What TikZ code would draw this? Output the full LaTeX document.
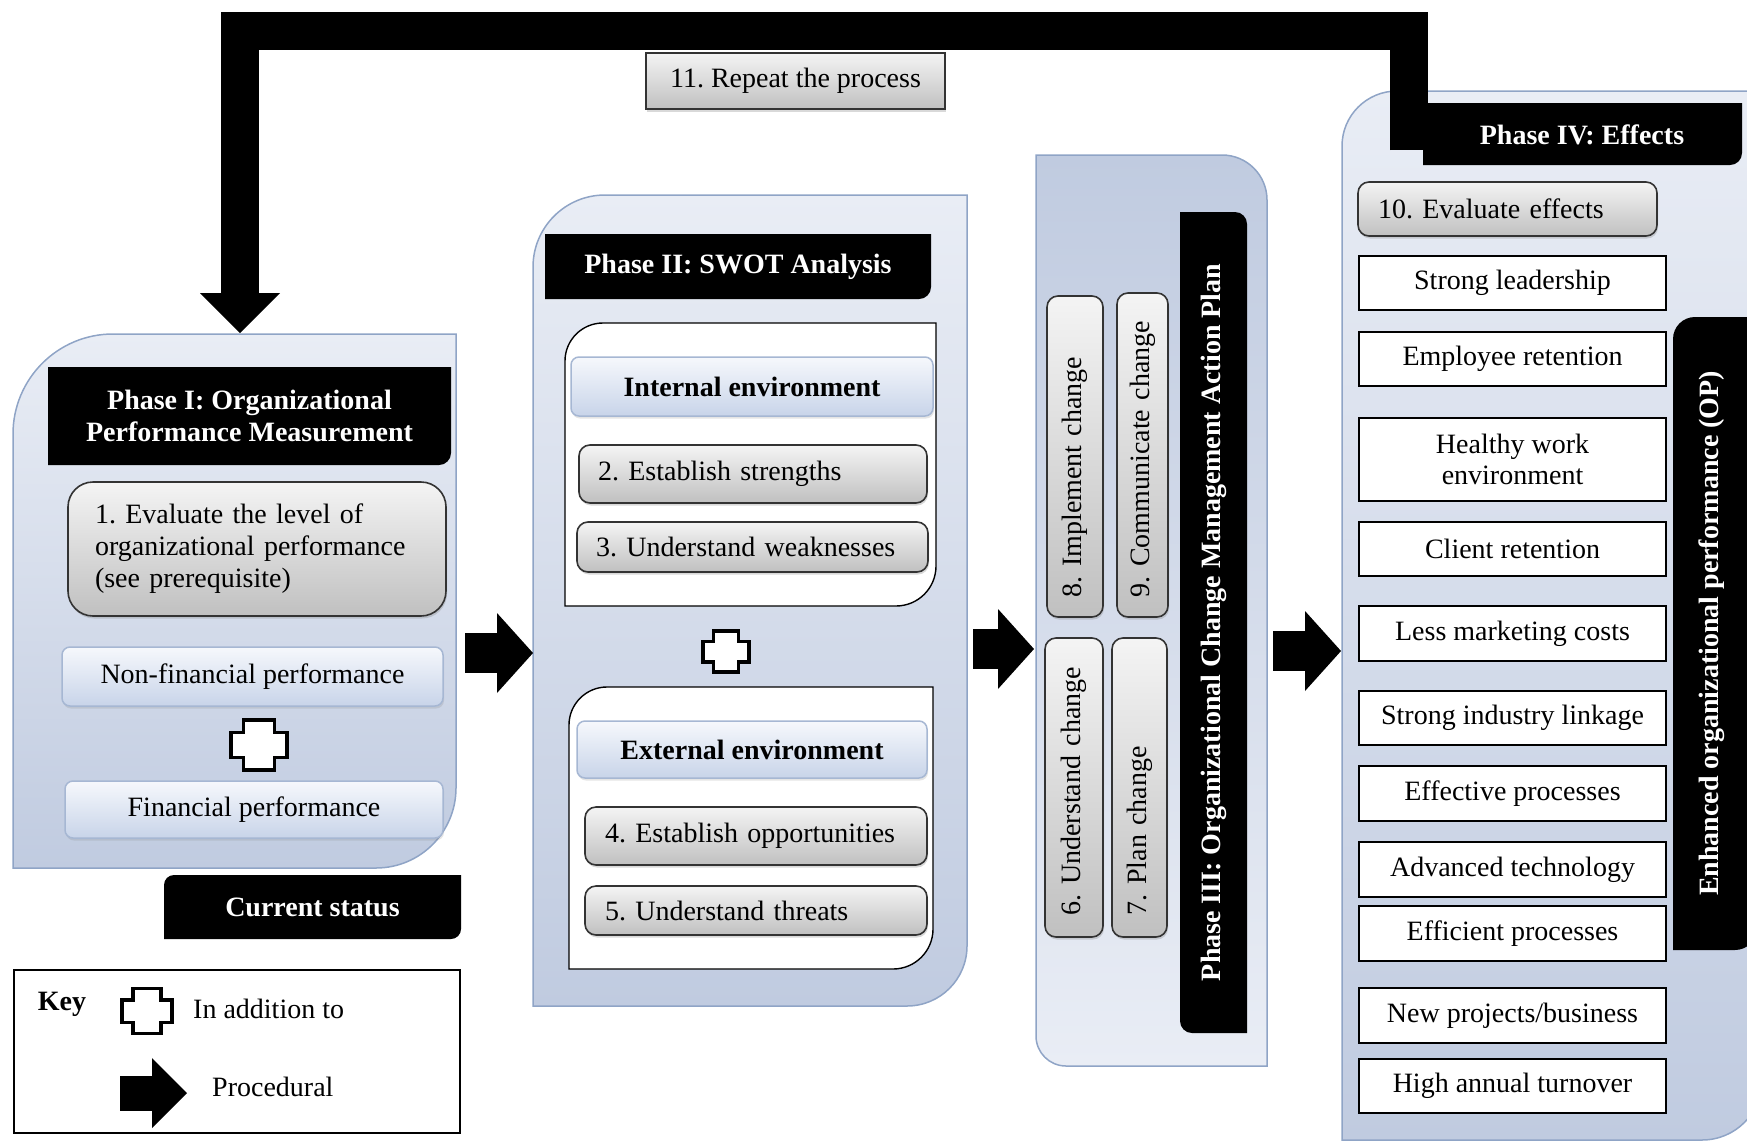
\documentclass[tikz,border=0pt]{standalone}
\usepackage{fontspec}
\setmainfont{Liberation Serif}
\usepackage{xcolor}
\usetikzlibrary{positioning, shadows, arrows.meta}
\frenchspacing

\definecolor{panelTop}{HTML}{E9EDF5}
\definecolor{panelBot}{HTML}{C0CBE0}
\definecolor{panelEdge}{HTML}{8FA4C6}
\definecolor{liteTop}{HTML}{F6F8FC}
\definecolor{liteBot}{HTML}{C8D4E9}
\definecolor{liteEdge}{HTML}{A6B7D3}
\definecolor{taskTop}{HTML}{F4F4F4}
\definecolor{taskBot}{HTML}{C0C0C0}

\tikzset{
    every node/.style={font=\fontsize{28}{31}\selectfont, inner sep=0pt},
    panel/.style={draw=panelEdge, line width=1.5pt, top color=panelTop, bottom color=panelBot},
    rpanel/.style={draw=panelEdge, line width=1.5pt, top color=panelBot, bottom color=panelTop},
    hdr/.style={fill=black},
    hdrtext/.style={text=white, font=\fontsize{28}{32}\selectfont\bfseries, align=center},
    holder/.style={draw=black, line width=1.4pt, fill=white},
    task/.style={rectangle, rounded corners=11pt, draw=black!80, line width=1.6pt, top color=taskTop, bottom color=taskBot, drop shadow={shadow xshift=1pt, shadow yshift=-2.5pt, opacity=0.3}},
    lite/.style={rectangle, rounded corners=8pt, draw=liteEdge, line width=1.5pt, top color=liteTop, bottom color=liteBot, drop shadow={shadow xshift=1pt, shadow yshift=-2.5pt, opacity=0.2}},
    effect/.style={rectangle, draw=black, line width=1.6pt, fill=white, minimum width=307pt, align=center},
    flow/.style={line width=40pt, -{Triangle[length=36pt, width=80pt, line width=0pt]}},
    loopback/.style={line width=38pt, line join=miter, -{Triangle[length=40pt, width=80pt, line width=0pt]}},
    addsign/.pic={\draw[line width=3.5pt, fill=white, line join=miter] (-15.5,-25) -- (15.5,-25) -- (15.5,-12.5) -- (28,-12.5) -- (28,12.5) -- (15.5,12.5) -- (15.5,25) -- (-15.5,25) -- (-15.5,12.5) -- (-28,12.5) -- (-28,-12.5) -- (-15.5,-12.5) -- cycle;},
}

% box with rounded top-left (#7) and bottom-right (#8) corners
\newcommand{\phasebox}[8]{%
    \path[#1] (#3,#6) -- (#3,{#4+#7}) arc[start angle=180, end angle=270, radius=#7]
        -- (#5,#4) -- (#5,{#6-#8}) arc[start angle=0, end angle=90, radius=#8] -- cycle;
    \coordinate (#2) at ({(#3+#5)/2},{(#4+#6)/2});
}

\begin{document}
\begin{tikzpicture}[x=1pt, y=-1pt]
\useasboundingbox (0,0) rectangle (1747,1143);

% phase panels
\phasebox{panel}{p1}{13}{334}{456}{868}{100}{80}
\phasebox{panel}{p2}{533}{195}{967}{1006}{72}{60}
\path[rpanel] (1036,155) -- (1222,155) arc[start angle=270, end angle=360, radius=45]
    -- (1267,1066) -- (1066,1066) arc[start angle=90, end angle=180, radius=30] -- cycle;
\coordinate (p3) at (1151.5,610.5);
\phasebox{panel}{p4}{1342}{91}{1762}{1140}{55}{60}

% procedural arrows
\coordinate (out1) at (465,653);
\coordinate (in2) at (533,653);
\coordinate (out2) at (973,649);
\coordinate (in3) at (1034,649);
\coordinate (out3) at (1273,651);
\coordinate (in4) at (1341,651);
\draw[flow] (out1) -- (in2);
\draw[flow] (out2) -- (in3);
\draw[flow] (out3) -- (in4);

% repeat loop
\coordinate (back) at (1409,150);
\coordinate (again) at (240,333);
\draw[loopback] (back) -- ++(0,-119) -| (again);
\node[task, sharp corners, minimum width=299pt, minimum height=56pt] (repeat) at (795.5,81) {11. Repeat the process};

% phase I
\phasebox{hdr}{h1}{48}{367}{451}{465}{0.01}{12}
\node[hdrtext] (h1text) at (h1) {Phase I: Organizational\\Performance Measurement};
\node[task, rounded corners=25pt, minimum width=378pt, minimum height=134pt, text width=324pt, inner xsep=27pt, align=left, font=\fontsize{28}{32}\selectfont] (s1) at (257,549) {1. Evaluate the level of\\organizational performance\\(see prerequisite)};
\node[lite, minimum width=381pt, minimum height=59pt] (nonfin) at (252.5,676.5) {Non-financial performance};
\pic at (259,745) {addsign};
\node[lite, minimum width=378pt, minimum height=57pt] (fin) at (254,809.5) {Financial performance};
\phasebox{hdr}{cur}{164}{875}{461}{939}{10}{10}
\node[hdrtext] (curtext) at (cur) {Current status};

% phase II
\phasebox{hdr}{h2}{545}{234}{931}{299}{0.01}{12}
\node[hdrtext] (h2text) at (h2) {Phase II: SWOT Analysis};
\phasebox{holder}{inner}{565}{323}{936}{606}{38}{40}
\node[lite, minimum width=362pt, minimum height=59pt, font=\fontsize{28}{31}\selectfont\bfseries] (inthdr) at (752,386.5) {Internal environment};
\node[task, minimum width=348pt, minimum height=58pt, text width=310pt, inner xsep=19pt, align=left] (s2) at (753,474) {2. Establish strengths};
\node[task, minimum width=351pt, minimum height=50pt, text width=313pt, inner xsep=19pt, align=left] (s3) at (752.5,547) {3. Understand weaknesses};
\pic[scale=0.82] at (726,651.5) {addsign};
\phasebox{holder}{outer}{569}{687}{933}{969}{38}{40}
\node[lite, minimum width=350pt, minimum height=57pt, font=\fontsize{28}{31}\selectfont\bfseries] (exthdr) at (752,749.5) {External environment};
\node[task, minimum width=342pt, minimum height=58pt, text width=302pt, inner xsep=20pt, align=left] (s4) at (756,836) {4. Establish opportunities};
\node[task, minimum width=342pt, minimum height=49pt, text width=302pt, inner xsep=20pt, align=left] (s5) at (756,910.5) {5. Understand threats};

% phase III
\path[hdr] (1180,212) -- (1235,212) arc[start angle=270, end angle=360, radius=12]
    -- (1247,1033) -- (1192,1033) arc[start angle=90, end angle=180, radius=12] -- cycle;
\node[hdrtext, rotate=90] (h3text) at (1213.5,622.5) {Phase III: Organizational Change Management Action Plan};
\node[task, rotate=90, minimum width=321pt, minimum height=56pt, text width=281pt, inner xsep=20pt, align=left] (s8) at (1075,456.5) {8. Implement change};
\node[task, rotate=90, minimum width=324pt, minimum height=51pt, text width=284pt, inner xsep=20pt, align=left] (s9) at (1142.5,455) {9. Communicate change};
\node[task, rotate=90, minimum width=299pt, minimum height=58pt, text width=255pt, inner xsep=22pt, align=left] (s6) at (1074,787.5) {6. Understand change};
\node[task, rotate=90, minimum width=299pt, minimum height=55pt, text width=255pt, inner xsep=22pt, align=left] (s7) at (1139.5,787.5) {7. Plan change};

% phase IV
\phasebox{hdr}{h4}{1423}{103}{1742}{165}{0.01}{12}
\node[hdrtext] (h4text) at (1582,135) {Phase IV: Effects};
\node[task, minimum width=299pt, minimum height=54pt, text width=259pt, inner xsep=20pt, align=left] (s10) at (1507.5,209) {10. Evaluate effects};
\foreach \nm/\yc/\hh/\lbl in {
    lead/283/54/Strong leadership,
    staff/359/54/Employee retention,
    health/459.5/83/{Healthy work\\environment},
    client/549/54/Client retention,
    market/633.5/55/Less marketing costs,
    link/718/54/Strong industry linkage,
    effproc/793.5/55/Effective processes,
    tech/869.5/55/Advanced technology,
    effic/933.5/55/Efficient processes,
    proj/1015.5/55/{New projects/business},
    turn/1086/54/High annual turnover}
    \node[effect, minimum height=\hh pt] (\nm) at (1512.5,\yc) {\lbl};
\phasebox{hdr}{opbar}{1673}{317}{1757}{950}{22}{22}
\node[hdrtext, rotate=90] (optext) at (1712,633.5) {Enhanced organizational performance (OP)};

% key
\node[draw, line width=1.3pt, minimum width=446pt, minimum height=163pt] (keybox) at (237,1051.5) {};
\node[font=\fontsize{28}{31}\selectfont\bfseries] (keylbl) at (62,1004) {Key};
\pic[scale=0.9] at (147,1011) {addsign};
\node[anchor=west] (addnote) at (193,1009) {In addition to};
\coordinate (keytail) at (120,1093);
\coordinate (keytip) at (187,1093);
\draw[flow, line width=35pt, -{Triangle[length=35pt, width=70pt, line width=0pt]}] (keytail) -- (keytip);
\node[right=25pt of keytip, yshift=6pt] (procnote) {Procedural};
\end{tikzpicture}
\end{document}
